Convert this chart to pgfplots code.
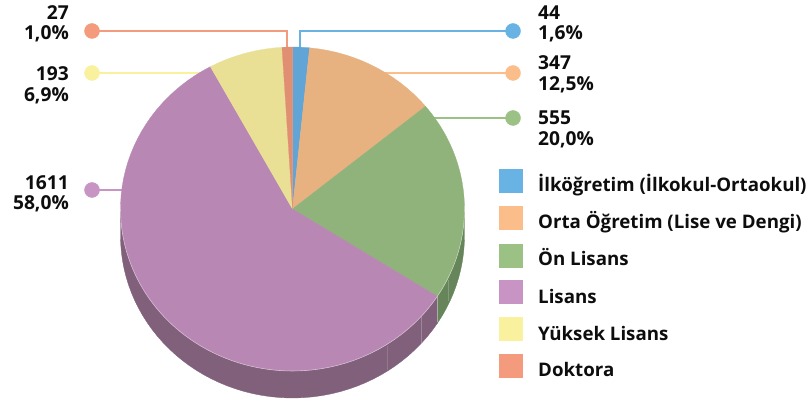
\documentclass[border=0pt]{standalone}
\usepackage{fontspec}
\setmainfont{Open Sans}
\usepackage{pgfplots}
\pgfplotsset{compat=1.18}

% slices, marks, side walls
\definecolor{pBlue}{HTML}{60A5D6}
\definecolor{pOrange}{HTML}{E7B180}
\definecolor{pGreen}{HTML}{90B37B}
\definecolor{pPurple}{HTML}{B887B3}
\definecolor{pYellow}{HTML}{E9E096}
\definecolor{pRed}{HTML}{E08F72}
\definecolor{mBlue}{HTML}{69B2E4}
\definecolor{mOrange}{HTML}{FBBE8A}
\definecolor{mGreen}{HTML}{9BC184}
\definecolor{mPurple}{HTML}{C794C3}
\definecolor{mYellow}{HTML}{F9F19D}
\definecolor{mRed}{HTML}{F39B7C}
\definecolor{wGreen}{HTML}{67855A}
\definecolor{wPurple}{HTML}{80607A}

\tikzset{
  lab/.style={font=\fontsize{18.7}{20}\selectfont\bfseries, inner sep=0pt, text=black!95},
  num/.style={font=\fontsize{19.2}{20}\selectfont\bfseries, inner sep=0pt, text=black!95},
}
\pgfplotsset{
  dot/.style={only marks,mark=*,mark size=7.5pt,color=#1,mark options={draw=#1,fill=#1}},
  sq/.style={only marks,mark=square*,mark size=11.5pt,color=#1,mark options={draw=#1,fill=#1}},
}

\def\piTotal{2777}
\def\piCum{0}
\def\cenX{292.5}
\def\cenY{209}
\def\radX{172}
\def\radY{162}
\def\piDepth{27}

% append an elliptical arc (degrees clockwise from the top) to \pts
\newcommand\buildarc[3]{%
  \pgfmathtruncatemacro\nsteps{max(2,ceil(abs(#2-#1)/3))}%
  \foreach \ii in {0,...,\nsteps}{%
    \pgfmathsetmacro\angT{#1+(#2-#1)*\ii/\nsteps}%
    \pgfmathsetmacro\ptX{\cenX+\radX*sin(\angT)}%
    \pgfmathsetmacro\ptY{\cenY-\radY*cos(\angT)+#3}%
    \xdef\pts{\pts (\ptX,\ptY)}%
  }}
% one slice for one value, starts where the last one ended
\newcommand\pieslice[2]{%
  \pgfmathsetmacro\angA{\piCum/\piTotal*360}%
  \pgfmathsetmacro\angB{(\piCum+#1)/\piTotal*360}%
  \gdef\pts{(\cenX,\cenY)}%
  \buildarc{\angA}{\angB}{0}%
  \xdef\pts{\pts (\cenX,\cenY)}%
  \edef\tmpplot{\noexpand\addplot[fill=#2,draw=#2,line width=0.3pt] coordinates {\pts};}\tmpplot
  \pgfmathsetmacro\newCum{\piCum+#1}\xdef\piCum{\newCum}%
}
% side wall between two values of the running total
\newcommand\pieWall[3]{%
  \pgfmathsetmacro\angA{max(#1/\piTotal*360,90)}%
  \pgfmathsetmacro\angB{min(#2/\piTotal*360,270)}%
  \gdef\pts{}%
  \buildarc{\angA}{\angB}{0}%
  \buildarc{\angB}{\angA}{\piDepth}%
  \edef\tmpplot{\noexpand\addplot[fill=#3,draw=#3,line width=0.3pt] coordinates {\pts};}\tmpplot
}

\begin{document}
\begin{tikzpicture}
\begin{axis}[
  width=811pt, height=403pt, scale only axis,
  xmin=0, xmax=811, ymin=0, ymax=403, y dir=reverse,
  hide axis, clip=false,
]
\path (axis cs:0,0) -- (axis cs:811,403);
% connector lines
\addplot[mRed,line width=1.8pt] coordinates {(92,31) (287,31) (287,49)};
\addplot[mBlue,line width=1.8pt] coordinates {(513,31) (300,31) (300,49)};
\addplot[mYellow,line width=1.8pt] coordinates {(92,73) (212,73)};
\addplot[mOrange,line width=1.8pt] coordinates {(513,73) (384,73)};
\addplot[mGreen,line width=1.8pt] coordinates {(513,118) (432,118)};
\addplot[mPurple,line width=1.8pt] coordinates {(92,190) (124,190)};

% walls
\pieWall{391}{946}{wGreen}
\pieWall{946}{2557}{wPurple}
\addplot[white,opacity=0.25,line width=0.5pt] coordinates {(421.5,317) (421.5,344)};
\addplot[white,opacity=0.15,line width=0.5pt] coordinates {(387,346) (387,370)};
\addplot[white,opacity=0.2,line width=0.5pt] coordinates {(448,280) (448,301)};
\addplot[white,opacity=0.3,line width=0.5pt] coordinates {(437.5,296) (437.5,322)};

% slices: 44, 347, 555, 1611, 193, 27
\pieslice{44}{pBlue}
\pieslice{347}{pOrange}
\pieslice{555}{pGreen}
\pieslice{1611}{pPurple}
\pieslice{193}{pYellow}
\pieslice{27}{pRed}

% light rim over the wall
\gdef\pts{}\buildarc{90}{270}{0}
\edef\tmpplot{\noexpand\addplot[white,opacity=0.45,line width=0.6pt] coordinates {\pts};}\tmpplot

% end dots
\addplot[dot=mRed] coordinates {(92,31)};
\addplot[dot=mBlue] coordinates {(513,31)};
\addplot[dot=mYellow] coordinates {(92,73)};
\addplot[dot=mOrange] coordinates {(513,73)};
\addplot[dot=mGreen] coordinates {(513,118)};
\addplot[dot=mPurple] coordinates {(92,190)};

% legend squares
\addplot[sq=mBlue] coordinates {(510.5,180.5)};
\addplot[sq=mOrange] coordinates {(510.5,217.5)};
\addplot[sq=mGreen] coordinates {(510.5,255.5)};
\addplot[sq=mPurple] coordinates {(510.5,291.5)};
\addplot[sq=mYellow] coordinates {(510.5,328.5)};
\addplot[sq=mRed] coordinates {(510.5,365.5)};

% value labels
\node[num,anchor=base east] at (axis cs:69,19.5) {27};
\node[num,anchor=base east] at (axis cs:69,39.5) {1,0\%};
\node[num,anchor=base east] at (axis cs:69,81) {193};
\node[num,anchor=base east] at (axis cs:69,101.5) {6,9\%};
\node[num,anchor=base east] at (axis cs:69,190) {1611};
\node[num,anchor=base east] at (axis cs:69,210) {58,0\%};
\node[num,anchor=base west] at (axis cs:538,19.5) {44};
\node[num,anchor=base west] at (axis cs:538,39.5) {1,6\%};
\node[num,anchor=base west] at (axis cs:538,70) {347};
\node[num,anchor=base west] at (axis cs:538,90.5) {12,5\%};
\node[num,anchor=base west] at (axis cs:538,125) {555};
\node[num,anchor=base west] at (axis cs:538,145.5) {20,0\%};

% legend text
\node[lab,anchor=base west] at (axis cs:538,192) {İlköğretim (İlkokul-Ortaokul)};
\node[lab,anchor=base west] at (axis cs:538,229) {Orta Öğretim (Lise ve Dengi)};
\node[lab,anchor=base west] at (axis cs:538,266) {Ön Lisans};
\node[lab,anchor=base west] at (axis cs:538,303) {Lisans};
\node[lab,anchor=base west] at (axis cs:538,340) {Yüksek Lisans};
\node[lab,anchor=base west] at (axis cs:538,376) {Doktora};
\end{axis}
\end{tikzpicture}
\end{document}
